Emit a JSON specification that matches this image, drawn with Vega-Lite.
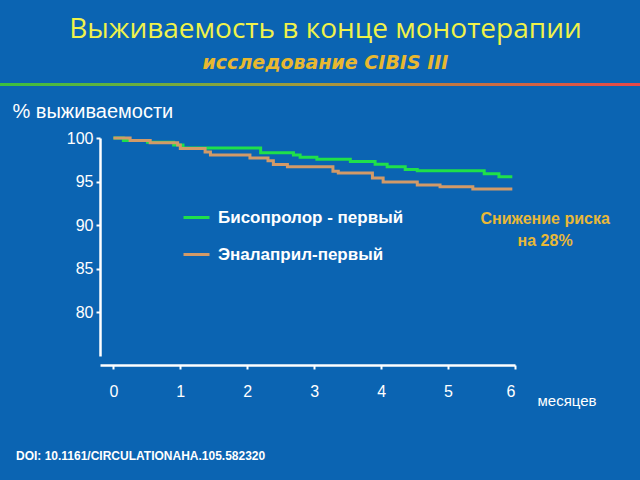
{
  "$schema": "https://vega.github.io/schema/vega-lite/v6.json",
  "autosize": {"type": "none"},
  "width": 415,
  "height": 218,
  "padding": {"left": 100, "top": 138, "right": 125, "bottom": 124},
  "background": "#0b64b2",
  "title": {
    "text": "Выживаемость  в конце монотерапии",
    "subtitle": "исследование CIBIS III",
    "anchor": "middle",
    "frame": "group",
    "dx": 18,
    "offset": 10,
    "font": "Open Sans",
    "fontSize": 28,
    "fontWeight": "normal",
    "color": "#f0f24a",
    "subtitleFont": "DejaVu Sans",
    "subtitleFontSize": 19,
    "subtitleFontWeight": "bold",
    "subtitleFontStyle": "italic",
    "subtitleColor": "#e8b830",
    "subtitlePadding": 10
  },
  "config": {
    "view": {"stroke": null},
    "axis": {
      "grid": false,
      "domainColor": "white",
      "domainWidth": 2.5,
      "tickColor": "white",
      "tickWidth": 2,
      "labelColor": "white",
      "labelFont": "Liberation Sans",
      "titleColor": "white",
      "titleFont": "Liberation Sans",
      "titleFontWeight": "normal"
    }
  },
  "layer": [
    {
      "data": {
        "values": [
          {"month": 0, "surv": 100, "group": "Бисопролор - первый"},
          {"month": 0.15, "surv": 99.7, "group": "Бисопролор - первый"},
          {"month": 0.51, "surv": 99.5, "group": "Бисопролор - первый"},
          {"month": 0.9, "surv": 99.2, "group": "Бисопролор - первый"},
          {"month": 1.04, "surv": 98.85, "group": "Бисопролор - первый"},
          {"month": 2.2, "surv": 98.3, "group": "Бисопролор - первый"},
          {"month": 2.69, "surv": 98.05, "group": "Бисопролор - первый"},
          {"month": 2.79, "surv": 97.8, "group": "Бисопролор - первый"},
          {"month": 3.04, "surv": 97.55, "group": "Бисопролор - первый"},
          {"month": 3.54, "surv": 97.3, "group": "Бисопролор - первый"},
          {"month": 3.91, "surv": 97.0, "group": "Бисопролор - первый"},
          {"month": 4.09, "surv": 96.7, "group": "Бисопролор - первый"},
          {"month": 4.36, "surv": 96.4, "group": "Бисопролор - первый"},
          {"month": 4.54, "surv": 96.25, "group": "Бисопролор - первый"},
          {"month": 5.54, "surv": 95.9, "group": "Бисопролор - первый"},
          {"month": 5.76, "surv": 95.55, "group": "Бисопролор - первый"},
          {"month": 5.96, "surv": 95.55, "group": "Бисопролор - первый"},
          {"month": 0, "surv": 100, "group": "Эналаприл-первый"},
          {"month": 0.25, "surv": 99.7, "group": "Эналаприл-первый"},
          {"month": 0.55, "surv": 99.46, "group": "Эналаприл-первый"},
          {"month": 0.96, "surv": 99.2, "group": "Эналаприл-первый"},
          {"month": 1.0, "surv": 98.8, "group": "Эналаприл-первый"},
          {"month": 1.37, "surv": 98.4, "group": "Эналаприл-первый"},
          {"month": 1.45, "surv": 98.05, "group": "Эналаприл-первый"},
          {"month": 2.04, "surv": 97.7, "group": "Эналаприл-первый"},
          {"month": 2.31, "surv": 97.4, "group": "Эналаприл-первый"},
          {"month": 2.39, "surv": 96.96, "group": "Эналаприл-первый"},
          {"month": 2.6, "surv": 96.7, "group": "Эналаприл-первый"},
          {"month": 3.28, "surv": 96.2, "group": "Эналаприл-первый"},
          {"month": 3.36, "surv": 96.0, "group": "Эналаприл-первый"},
          {"month": 3.87, "surv": 95.4, "group": "Эналаприл-первый"},
          {"month": 4.03, "surv": 94.95, "group": "Эналаприл-первый"},
          {"month": 4.54, "surv": 94.6, "group": "Эналаприл-первый"},
          {"month": 4.88, "surv": 94.4, "group": "Эналаприл-первый"},
          {"month": 5.37, "surv": 94.15, "group": "Эналаприл-первый"},
          {"month": 5.96, "surv": 94.15, "group": "Эналаприл-первый"}
        ]
      },
      "mark": {"type": "line", "interpolate": "step-after", "strokeWidth": 3},
      "encoding": {
        "x": {
          "field": "month",
          "type": "quantitative",
          "scale": {"domain": [-0.2, 6], "nice": false, "zero": false},
          "axis": {
            "values": [0, 1, 2, 3, 4, 5, 6],
            "format": "d",
            "offset": 9,
            "tickSize": 4,
            "labelFontSize": 16,
            "labelPadding": 14,
            "title": "месяцев",
            "titleFontSize": 15,
            "titleX": 437,
            "titleY": 35,
            "titleAlign": "left",
            "titleBaseline": "middle"
          }
        },
        "y": {
          "field": "surv",
          "type": "quantitative",
          "scale": {"domain": [75, 100], "nice": false, "zero": false},
          "axis": {
            "values": [80, 85, 90, 95, 100],
            "tickSize": 4,
            "labelFontSize": 16,
            "labelPadding": 3,
            "title": "% выживаемости",
            "titleFontSize": 20,
            "titleAngle": 0,
            "titleAlign": "left",
            "titleBaseline": "middle",
            "titleX": -88,
            "titleY": -27
          }
        },
        "color": {
          "field": "group",
          "type": "nominal",
          "scale": {
            "domain": ["Бисопролор - первый", "Эналаприл-первый"],
            "range": ["#1fe04a", "#d29a68"]
          },
          "legend": {
            "orient": "none",
            "legendX": 82,
            "legendY": 65,
            "title": null,
            "symbolType": "stroke",
            "symbolSize": 676,
            "symbolStrokeWidth": 3,
            "labelFont": "Liberation Sans",
            "labelFontWeight": "bold",
            "labelFontSize": 17,
            "labelColor": "white",
            "labelLimit": 0,
            "labelOffset": 7,
            "rowPadding": 14,
            "padding": 0
          }
        }
      }
    },
    {
      "data": {"values": [{"note": "divider"}]},
      "mark": {
        "type": "rect",
        "fill": {
          "gradient": "linear",
          "x1": 0, "y1": 0, "x2": 1, "y2": 0,
          "stops": [
            {"offset": 0, "color": "#3cc040"},
            {"offset": 0.5, "color": "#a8983c"},
            {"offset": 1, "color": "#e84848"}
          ]
        }
      },
      "encoding": {
        "x": {"datum": -1.694},
        "x2": {"datum": 7.868},
        "y": {"datum": 106.31},
        "y2": {"datum": 105.96}
      }
    },
    {
      "data": {"values": [{"note": "risk"}]},
      "mark": {
        "type": "text",
        "text": ["Снижение риска", "на 28%"],
        "font": "Liberation Sans",
        "fontWeight": "bold",
        "fontSize": 16,
        "fill": "#e8b838",
        "align": "center",
        "baseline": "middle",
        "lineHeight": 22
      },
      "encoding": {
        "x": {"datum": 6.45},
        "y": {"datum": 90.71}
      }
    },
    {
      "data": {"values": [{"note": "doi"}]},
      "mark": {
        "type": "text",
        "text": "DOI: 10.1161/CIRCULATIONAHA.105.582320",
        "font": "Liberation Sans",
        "fontWeight": "bold",
        "fontSize": 12,
        "fill": "white",
        "align": "left",
        "baseline": "middle"
      },
      "encoding": {
        "x": {"datum": -1.455},
        "y": {"datum": 63.53}
      }
    }
  ]
}
